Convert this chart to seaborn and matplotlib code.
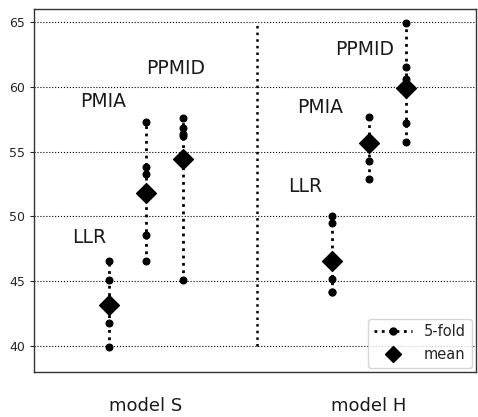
import matplotlib
matplotlib.use("Agg")
import matplotlib.pyplot as plt
from matplotlib.lines import Line2D
import seaborn as sns
import pandas as pd

models = ["model S", "model H"]
methods = ["LLR", "PMIA", "PPMID"]

# 5-fold scores per model / method
folds_S_LLR = [46.6, 45.1, 43.2, 41.75, 39.9]
folds_S_PMIA = [57.3, 53.85, 53.3, 48.55, 46.6]
folds_S_PPMID = [57.6, 56.8, 56.4, 56.2, 45.1]
folds_H_LLR = [50.05, 49.5, 45.15, 44.2, 44.15]
folds_H_PMIA = [57.7, 56.0, 55.5, 54.3, 52.9]
folds_H_PPMID = [64.9, 61.55, 60.6, 57.25, 55.75]

# means (diamonds)
means_S = [43.15, 51.85, 54.4]
means_H = [46.6, 55.7, 59.95]

folds = {
    ("model S", "LLR"): folds_S_LLR,
    ("model S", "PMIA"): folds_S_PMIA,
    ("model S", "PPMID"): folds_S_PPMID,
    ("model H", "LLR"): folds_H_LLR,
    ("model H", "PMIA"): folds_H_PMIA,
    ("model H", "PPMID"): folds_H_PPMID,
}
means = {"model S": means_S, "model H": means_H}

sns.set_style("ticks")
plt.rcParams["font.family"] = ["DejaVu Sans"]

fig = plt.figure(figsize=(4.78, 4.17), dpi=100)
ax = fig.add_axes([0.071, 0.108, 0.925, 0.870])

offsets = {"LLR": -1 / 6, "PMIA": 0.0, "PPMID": 1 / 6}
rows = []
mrows = []
for mi, m in enumerate(models):
    for k, meth in enumerate(methods):
        for v in folds[(m, meth)]:
            rows.append({"group": f"{m}-{meth}", "x": mi + offsets[meth], "value": v})
        mrows.append({"x": mi + offsets[meth], "value": means[m][k]})
df = pd.DataFrame(rows)
dm = pd.DataFrame(mrows)

ax.set_axisbelow(True)
ax.yaxis.grid(True, linestyle=":", color="black", linewidth=0.8)

sns.lineplot(data=df, x="x", y="value", units="group", estimator=None,
             sort=True, color="black", linestyle=":", linewidth=2.0,
             marker="o", markersize=5, markeredgecolor="black",
             ax=ax, legend=False)
sns.scatterplot(data=dm, x="x", y="value", marker="D", s=105,
                color="black", edgecolor="black", ax=ax, legend=False, zorder=5)

# separator
ax.plot([0.5, 0.5], [40, 65], linestyle=":", color="black", linewidth=1.8)

# method labels
label_pos = {
    ("model S", "LLR"): (-0.255, 48.4),
    ("model S", "PMIA"): (-0.19, 58.9),
    ("model S", "PPMID"): (0.135, 61.4),
    ("model H", "LLR"): (0.715, 52.3),
    ("model H", "PMIA"): (0.78, 58.4),
    ("model H", "PPMID"): (0.98, 62.9),
}
for (m, meth), (tx, ty) in label_pos.items():
    ax.text(tx, ty, meth, fontsize=13.5, ha="center", va="center", color="#1a1a1a")

ax.set_xlim(-0.502, 1.48)
ax.set_ylim(38, 66)
ax.set_xticks([0, 1])
ax.set_xticklabels(models, fontsize=13, color="#1a1a1a")
ax.tick_params(axis="x", length=0, pad=18)
ax.tick_params(axis="y", labelsize=9, length=3)
ax.set_yticks([40, 45, 50, 55, 60, 65])
ax.set_xlabel("")
ax.set_ylabel("")
for s in ax.spines.values():
    s.set_color("#333333")
    s.set_linewidth(1.0)

handles = [
    Line2D([], [], color="black", linestyle=":", linewidth=2, marker="o", markersize=5),
    Line2D([], [], color="black", linestyle="none", marker="D", markersize=8.5),
]
ax.legend(handles, ["5-fold", "mean"], loc="lower right", fontsize=10.5,
          handlelength=2.6, borderaxespad=0.3)

fig.savefig("out.png", dpi=100)
